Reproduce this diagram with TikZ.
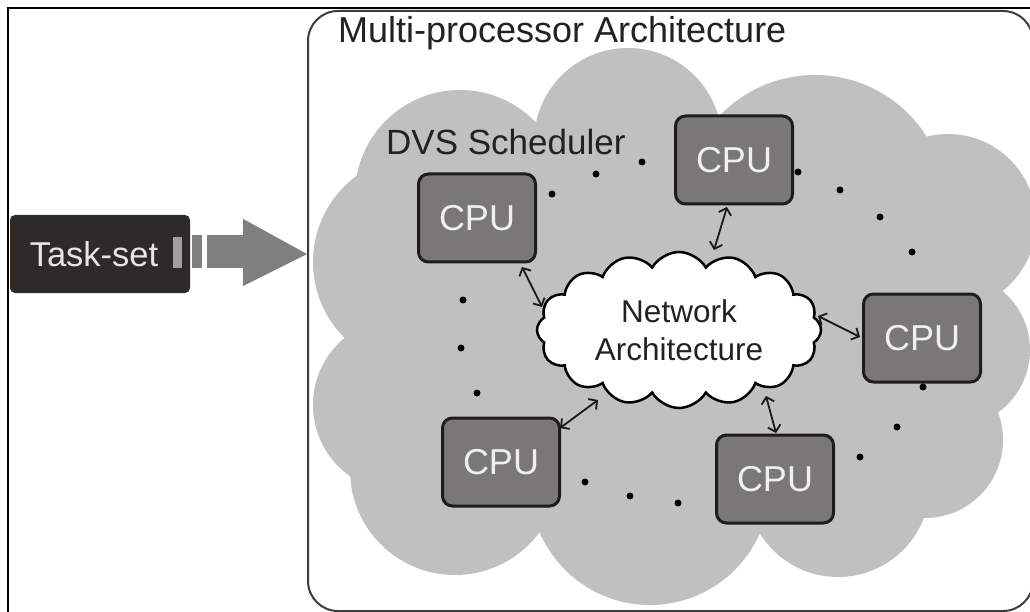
\documentclass[tikz,border=0pt]{standalone}
\usepackage{fontspec}
\setmainfont{Liberation Sans}
\usetikzlibrary{shapes.symbols,arrows.meta,calc}
\definecolor{cloudgray}{HTML}{C0C0C0}
\definecolor{cpufill}{HTML}{7A7777}
\definecolor{cpuedge}{HTML}{1E1C1C}
\definecolor{taskfill}{HTML}{2E2A28}
\definecolor{arrowgray}{HTML}{808080}
\definecolor{framegray}{HTML}{3C3C3C}
\definecolor{inkdark}{HTML}{222222}
\begin{document}
\begin{tikzpicture}[x=1pt,y=-1pt,
  cpubox/.style={draw=cpuedge, line width=3pt, fill=cpufill, rounded corners=10pt,
    minimum width=117pt, minimum height=88pt, inner sep=0pt,
    text=white!94!black, font=\fontsize{36}{40}\selectfont},
  link/.style={draw=black!90, line width=1.8pt,
    {Straight Barb[length=6pt,width=13pt]}-{Straight Barb[length=6pt,width=13pt]}},
  label/.style={anchor=base west, inner sep=0pt, text=inkdark},
]
\useasboundingbox (0,0) rectangle (1030,612);

% outer frame
\draw[line width=2.5pt] (8,8) rectangle (1045,625);

% multi-processor container
\node[draw=framegray, line width=2pt, fill=white, rounded corners=30pt,
      minimum width=725pt, minimum height=600pt, inner sep=0pt] (arch) at (670.5,311) {};
\node[label, font=\fontsize{36}{40}\selectfont] (archlabel) at (338,43) {Multi-processor Architecture};

% DVS scheduler cloud (union of puffs)
\fill[cloudgray]
  (420,170) rectangle (940,500)
  (460,195) circle [radius=105pt]
  (628,142) circle [radius=94pt]
  (815,207) circle [radius=132pt]
  (948,222) circle [radius=88pt]
  (953,350) circle [radius=77pt]
  (925,440) circle [radius=78pt]
  (838,485) circle [radius=92pt]
  (650,485) circle [radius=120pt]
  (455,470) circle [radius=105pt]
  (400,405) circle [radius=87pt]
  (420,262) circle [radius=107pt];
\node[label, font=\fontsize{35}{40}\selectfont] (dvs) at (386,155) {DVS Scheduler};

% network
\node[cloud, cloud puffs=16, cloud puff arc=120, cloud ignores aspect,
      minimum width=284pt, minimum height=156pt, inner sep=0pt,
      draw=black, line width=2.5pt, fill=white, align=center, text=inkdark,
      font=\fontsize{31.5}{38}\selectfont] (net) at (679,330) {Network\\Architecture};

% processors
\node[cpubox] (cpu1) at (477,218) {CPU};
\node[cpubox] (cpu2) at (734,160) {CPU};
\node[cpubox] (cpu3) at (922,338) {CPU};
\node[cpubox] (cpu4) at (501,462) {CPU};
\node[cpubox] (cpu5) at (775,479) {CPU};

% processor <-> network links
\draw[link] ($(cpu1)+(45,49)$) -- ($(net)+(-137,-23)$);
\draw[link] ($(cpu2)+(-7,47)$) -- ($(net)+(35,-80)$);
\draw[link] ($(cpu3)+(-62,-1)$) -- ($(net)+(139,-14)$);
\draw[link] ($(cpu4)+(59,-34)$) -- ($(net)+(-81,70)$);
\draw[link] ($(cpu5)+(1,-46)$) -- ($(net)+(87,66)$);

% ellipsis dots around the ring of processors
\foreach \p in {(552,194),(596,174),(642,162),(798,172),(840,190),(880,217),(912,252),
                (923,387),(897,427),(860,457),(585,482),(630,496),(678,503),
                (463,300),(461,348),(477,393)}
  \fill[black] \p circle [radius=3.5pt];

% task set and its input arrow
\node[fill=taskfill, rounded corners=5pt, minimum width=180pt, minimum height=78pt,
      inner sep=0pt, text=white!90!black, font=\fontsize{34.5}{40}\selectfont] (task) at (100,254) {Task-set\hspace*{12pt}};
\fill[gray!75] ($(task.east)+(-17,-17)$) rectangle ($(task.east)+(-8,14)$);
\fill[arrowgray] ($(task.east)+(2,-19)$) rectangle ($(task.east)+(12,14)$);
\fill[arrowgray] ($(task.east)+(17,-19)$) rectangle ($(task.east)+(54,14)$);
\fill[arrowgray] ($(task.east)+(53,-35)$) -- (task.east -| arch.west) -- ($(task.east)+(53,32)$) -- cycle;
\end{tikzpicture}
\end{document}
